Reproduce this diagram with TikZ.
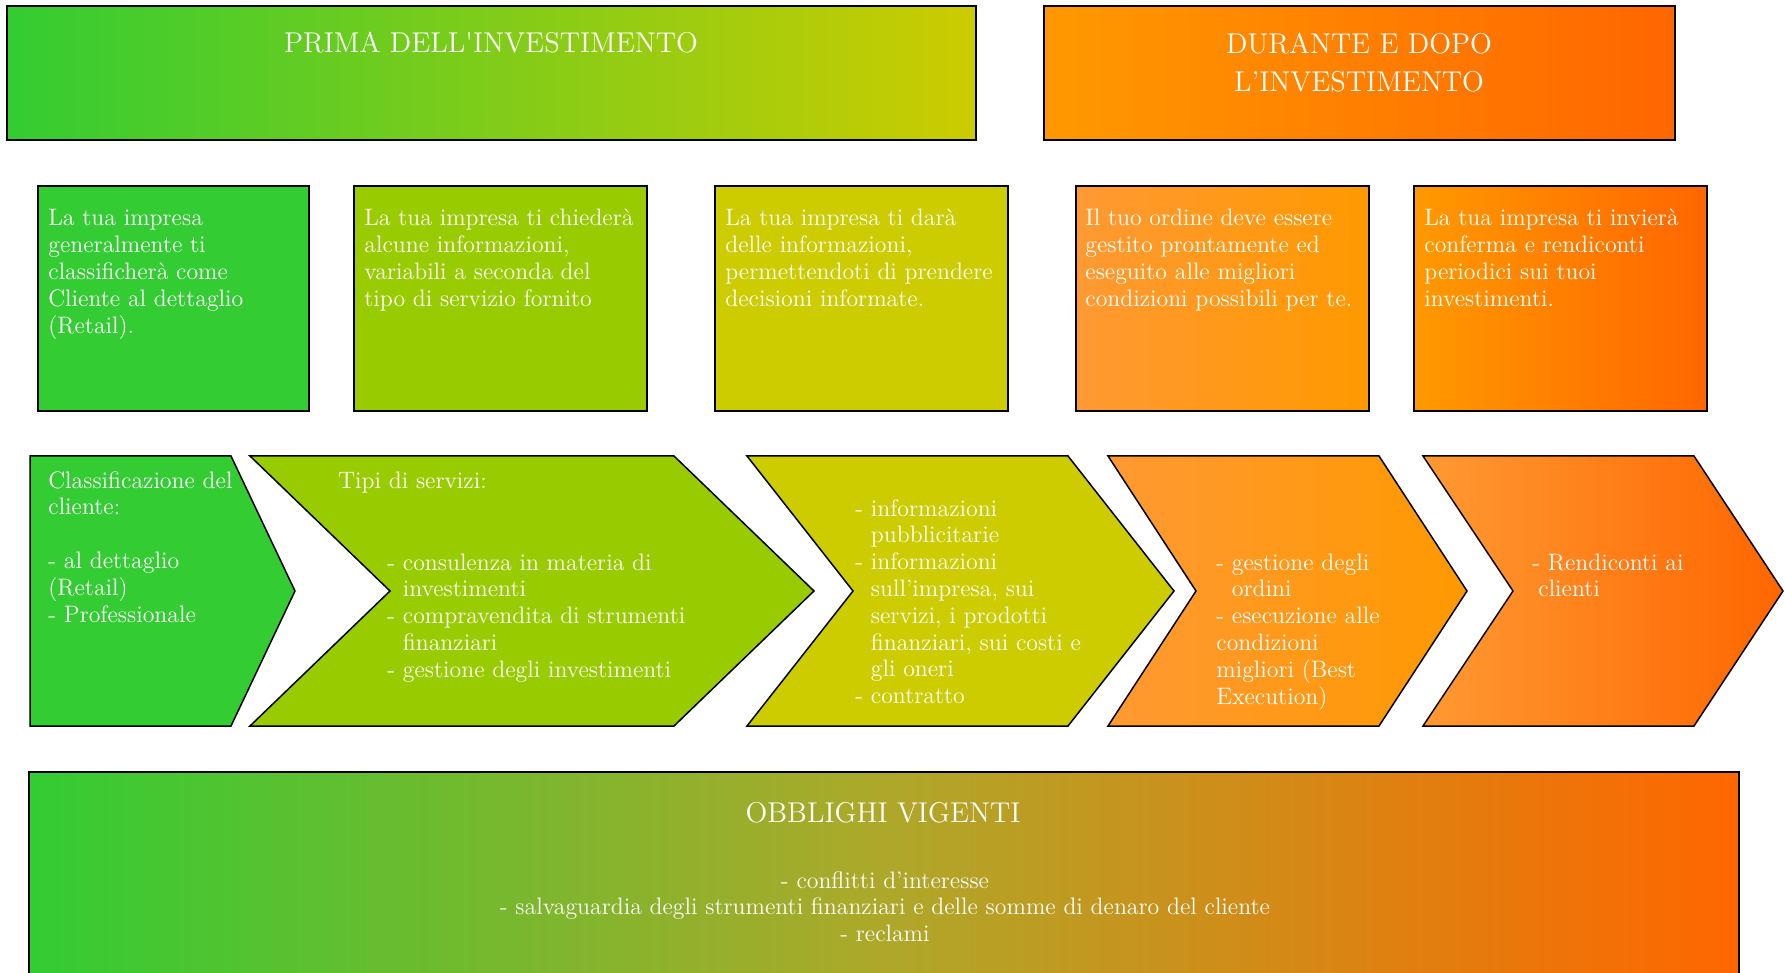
\documentclass[tikz,border=0pt]{standalone}
\usepackage{tikz}
\usetikzlibrary{positioning}

\definecolor{verde}{HTML}{33CC33}
\definecolor{verdelime}{HTML}{99CC00}
\definecolor{giallo}{HTML}{CCCC00}
\definecolor{aranciochiaro}{HTML}{FF9933}
\definecolor{arancio}{HTML}{FF9900}
\definecolor{aranciocupo}{HTML}{FF6600}
\definecolor{oliva}{HTML}{AEA82A}
\newcommand\rientro{\phantom{- }}

\begin{document}
\begin{tikzpicture}[x=0.5pt, y=-0.5pt]
  \tikzstyle{fase} = [draw=black, line width=0.75pt]
  % the base of a node of several lines is its last line
  \tikzstyle{testo} = [text=white, anchor=base west, inner sep=0pt, align=left, font={\fontsize{11.9}{13.4}\selectfont}]
  \tikzstyle{titolo} = [text=white, anchor=base, inner sep=0pt, align=center, font={\fontsize{14.3}{19}\selectfont}]

  \useasboundingbox (0,0) rectangle (1785,973);
  \clip (0,0) rectangle (1785,973);

  % intestazioni
  \draw[fase, left color=verde, right color=giallo] (7,6) rectangle (976,140);
  \draw[fase, left color=arancio, right color=aranciocupo] (1044,6) rectangle (1675,140);
  \node[titolo] (prima) at (491,53) {PRIMA DELL\textquotesingle INVESTIMENTO};
  \node[titolo] (dopo) at (1359,92) {DURANTE E DOPO\\L’INVESTIMENTO};

  % riquadri descrittivi
  \draw[fase, fill=verde] (38,186) rectangle (309,411);
  \draw[fase, fill=verdelime] (354,186) rectangle (647,411);
  \draw[fase, fill=giallo] (715,186) rectangle (1008,411);
  \draw[fase, left color=aranciochiaro, right color=arancio] (1076,186) rectangle (1369,411);
  \draw[fase, left color=arancio, right color=aranciocupo] (1414,186) rectangle (1707,411);

  \node[testo] (desc1) at (48,333.2) {La tua impresa\\generalmente ti\\classificherà come\\Cliente al dettaglio\\(Retail).};
  \node[testo] (desc2) at (364,306.4) {La tua impresa ti chiederà\\alcune informazioni,\\variabili a seconda del\\tipo di servizio fornito};
  \node[testo] (desc3) at (725,306.4) {La tua impresa ti darà\\delle informazioni,\\permettendoti di prendere\\decisioni informate.};
  \node[testo] (desc4) at (1085,306.4) {Il tuo ordine deve essere\\gestito prontamente ed\\eseguito alle migliori\\condizioni possibili per te.};
  \node[testo] (desc5) at (1424,306.4) {La tua impresa ti invierà\\conferma e rendiconti\\periodici sui tuoi\\investimenti.};

  % frecce del processo
  \draw[fase, fill=verde] (30,456) -- (231,456) -- (295,591) -- (231,726) -- (30,726) -- cycle;
  \draw[fase, fill=verdelime] (250,456) -- (674,456) -- (814,591) -- (674,726) -- (250,726) -- (390,591) -- cycle;
  \draw[fase, fill=giallo] (747,456) -- (1068,456) -- (1174,591) -- (1068,726) -- (747,726) -- (853,591) -- cycle;
  \draw[fase, left color=aranciochiaro, right color=arancio] (1108,456) -- (1379,456) -- (1467,591) -- (1379,726) -- (1108,726) -- (1196,591) -- cycle;
  \draw[fase, left color=aranciochiaro, right color=aranciocupo] (1423,456) -- (1694,456) -- (1783,591) -- (1694,726) -- (1423,726) -- (1513,591) -- cycle;

  \node[testo] (classi) at (48,622) {Classificazione del\\cliente:\\\mbox{}\\- al dettaglio\\(Retail)\\- Professionale};
  \node[testo] (tipi) at (338,488) {Tipi di servizi:};
  \node[testo] (servizi) at (387,677.2) {- consulenza in materia di\\\rientro investimenti\\- compravendita di strumenti\\\rientro finanziari\\- gestione degli investimenti};
  \node[testo] (info) at (855,703.6) {- informazioni\\\rientro pubblicitarie\\- informazioni\\\rientro sull’impresa, sui\\\rientro servizi, i prodotti\\\rientro finanziari, sui costi e\\\rientro gli oneri\\- contratto};
  \node[testo] (ordini) at (1216,704) {- gestione degli\\\rientro ordini\\- esecuzione alle\\condizioni\\migliori (Best\\Execution)};
  \node[testo] (rendic) at (1532,596.8) {- Rendiconti ai\\\hspace*{3pt}clienti};

  % obblighi
  \draw[fase, left color=verde, right color=aranciocupo, middle color=oliva] (29,772) rectangle (1739,1000);
  \node[titolo] (obblighi) at (883,822) {OBBLIGHI VIGENTI};
  \node[testo, anchor=base, align=center] (elenco) at (885,941.6) {- conflitti d’interesse\\- salvaguardia degli strumenti finanziari e delle somme di denaro del cliente\\- reclami};
\end{tikzpicture}
\end{document}
